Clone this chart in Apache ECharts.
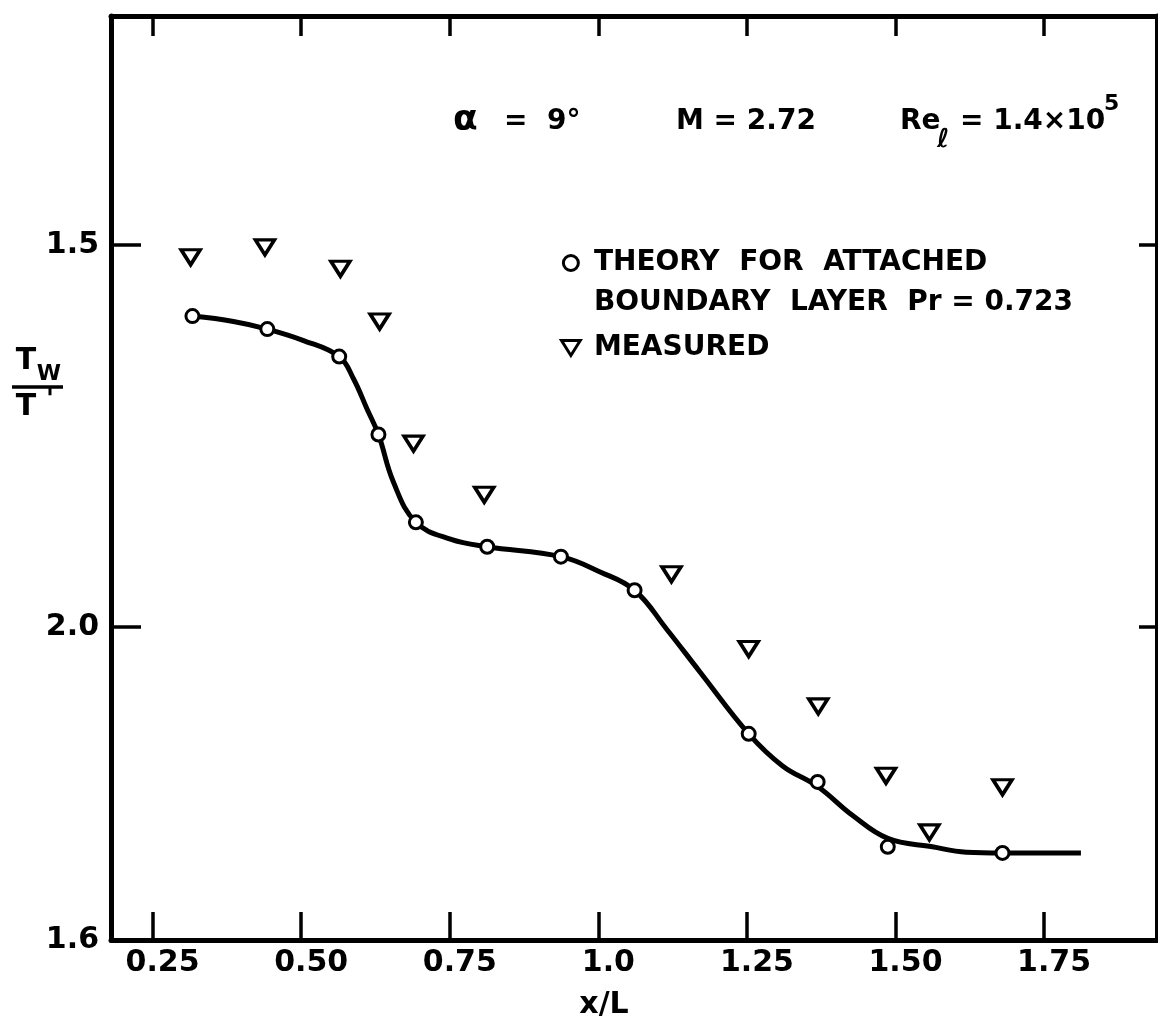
<!DOCTYPE html>
<html>
<head>
<meta charset="utf-8">
<script src="https://cdn.jsdelivr.net/npm/echarts@6/dist/echarts.min.js"></script>
<style>
  html, body { margin: 0; padding: 0; background: #ffffff; }
  #chart { width: 1158px; height: 1027px; }
</style>
</head>
<body>
<div id="chart"></div>
<script>
// ---- Data ----
const xTickValues = [0.25, 0.5, 0.75, 1.0, 1.25, 1.5, 1.75];
const xTickLabels = ['0.25', '0.50', '0.75', '1.0', '1.25', '1.50', '1.75'];
const yTickValues = [1.5, 2.0];
const yLabelValues = [1.5, 2.0, 2.41];
const yTickLabels = ['1.5', '2.0', '1.6'];

const theoryX = [0.317, 0.443, 0.564, 0.630, 0.693, 0.813, 0.937, 1.061, 1.253, 1.369, 1.487, 1.680];
const theoryY = [1.593, 1.610, 1.646, 1.748, 1.863, 1.895, 1.908, 1.952, 2.140, 2.203, 2.288, 2.296];

const measuredX = [0.314, 0.439, 0.566, 0.632, 0.689, 0.808, 1.123, 1.253, 1.370, 1.484, 1.557, 1.680];
const measuredY = [1.516, 1.503, 1.531, 1.600, 1.760, 1.827, 1.931, 2.029, 2.104, 2.195, 2.269, 2.210];

const curveX = [0.317, 0.386, 0.443, 0.504, 0.564, 0.588, 0.611, 0.630, 0.655, 0.693, 0.751, 0.813, 0.937,
                1.003, 1.061, 1.115, 1.171, 1.253, 1.310, 1.369, 1.428, 1.487, 1.562, 1.619, 1.680, 1.812];
const curveY = [1.593, 1.600, 1.610, 1.625, 1.646, 1.675, 1.715, 1.748, 1.810, 1.863, 1.885, 1.895, 1.908,
                1.928, 1.952, 2.003, 2.059, 2.140, 2.182, 2.209, 2.247, 2.277, 2.288, 2.295, 2.296, 2.296];

const theoryName = 'THEORY  FOR  ATTACHED\nBOUNDARY  LAYER  Pr = 0.723';
const measuredName = 'MEASURED';

// ---- Build ----
const FONT = 'DejaVu Sans';
const zip = (a, b) => a.map((v, i) => [v, b[i]]);
const triPath = 'path://M0,0 L20,0 L10,16 Z';

const chart = echarts.init(document.getElementById('chart'), null, { renderer: 'canvas' });

const xLabelMap = {};
xTickValues.forEach((v, i) => { xLabelMap[v.toFixed(3)] = xTickLabels[i]; });
const yLabelMap = {};
yLabelValues.forEach((v, i) => { yLabelMap[v.toFixed(3)] = yTickLabels[i]; });

const option = {
  backgroundColor: '#ffffff',
  animation: false,
  grid: { left: 111, top: 16, width: 1046, height: 924, containLabel: false },
  xAxis: [
    {
      type: 'value', position: 'bottom', min: 0.18, max: 1.94,
      axisLine: { show: true, lineStyle: { color: '#000', width: 5 } },
      axisTick: { show: true, inside: true, length: 28, customValues: xTickValues, lineStyle: { color: '#000', width: 3.5 } },
      axisLabel: {
        show: true, customValues: xTickValues, margin: 8,
        formatter: v => xLabelMap[v.toFixed(3)] || '',
        color: '#000', fontFamily: FONT, fontWeight: 'bold', fontSize: 30,
        padding: [0, 0, 0, 20]
      },
      splitLine: { show: false },
      name: 'x/L', nameLocation: 'middle', nameGap: 50,
      nameTextStyle: { color: '#000', fontFamily: FONT, fontWeight: 'bold', fontSize: 30, padding: [0, 60, 0, 0] }
    },
    {
      type: 'value', position: 'top', min: 0.18, max: 1.94,
      axisLine: { show: true, lineStyle: { color: '#000', width: 5 } },
      axisTick: { show: true, inside: true, length: 20, customValues: xTickValues, lineStyle: { color: '#000', width: 3.5 } },
      axisLabel: { show: false },
      splitLine: { show: false }
    }
  ],
  yAxis: [
    {
      type: 'value', position: 'left', inverse: true, min: 1.2, max: 2.41,
      axisLine: { show: true, lineStyle: { color: '#000', width: 5 } },
      axisTick: { show: true, inside: true, length: 30, customValues: yTickValues, lineStyle: { color: '#000', width: 3.5 } },
      axisLabel: {
        show: true, customValues: yLabelValues, margin: 12,
        formatter: v => yLabelMap[v.toFixed(3)] || '',
        color: '#000', fontFamily: FONT, fontWeight: 'bold', fontSize: 30
      },
      splitLine: { show: false }
    },
    {
      type: 'value', position: 'right', inverse: true, min: 1.2, max: 2.41,
      axisLine: { show: true, lineStyle: { color: '#000', width: 5 } },
      axisTick: { show: true, inside: true, length: 18, customValues: yTickValues, lineStyle: { color: '#000', width: 3.5 } },
      axisLabel: { show: false },
      splitLine: { show: false }
    }
  ],
  legend: {
    orient: 'vertical', left: 555, top: 198, itemGap: 5,
    itemWidth: 36, itemHeight: 15, symbolKeepAspect: true, selectedMode: false,
    formatter: name => (name === theoryName ? '\n' + name : name),
    textStyle: { color: '#000', fontFamily: FONT, fontWeight: 'bold', fontSize: 28, lineHeight: 40 },
    data: [
      { name: theoryName, icon: 'circle',
        itemStyle: { color: '#fff', borderColor: '#000', borderWidth: 3 } },
      { name: measuredName, icon: triPath,
        itemStyle: { color: '#fff', borderColor: '#000', borderWidth: 3 } }
    ]
  },
  graphic: [
    // y-axis title  Tw / T'
    { type: 'text', style: { x: 26, y: 361, text: 'T', align: 'center', verticalAlign: 'middle', font: 'bold 30px "DejaVu Sans"', fill: '#000' } },
    { type: 'text', style: { x: 49, y: 374, text: 'W', align: 'center', verticalAlign: 'middle', font: 'bold 22px "DejaVu Sans"', fill: '#000' } },
    { type: 'line', shape: { x1: 12, y1: 387, x2: 63, y2: 387 }, style: { stroke: '#000', lineWidth: 3.5 } },
    { type: 'text', style: { x: 26, y: 407, text: 'T', align: 'center', verticalAlign: 'middle', font: 'bold 30px "DejaVu Sans"', fill: '#000' } },
    { type: 'text', style: { x: 50, y: 401, text: "'", align: 'center', verticalAlign: 'middle', font: 'bold 26px "DejaVu Sans"', fill: '#000' } },
    // header annotations
    { type: 'text', style: { x: 453, y: 121, text: 'α', align: 'left', verticalAlign: 'middle', font: 'bold 36px "DejaVu Sans"', fill: '#000' } },
    { type: 'text', style: { x: 504, y: 122, text: '=  9°', align: 'left', verticalAlign: 'middle', font: 'bold 28px "DejaVu Sans"', fill: '#000' } },
    { type: 'text', style: { x: 676, y: 122, text: 'M = 2.72', align: 'left', verticalAlign: 'middle', font: 'bold 28px "DejaVu Sans"', fill: '#000' } },
    { type: 'text', style: { x: 900, y: 122, text: 'Re', align: 'left', verticalAlign: 'middle', font: 'bold 28px "DejaVu Sans"', fill: '#000' } },
    { type: 'text', style: { x: 937, y: 140, text: 'ℓ', align: 'left', verticalAlign: 'middle', font: 'bold 26px "DejaVu Sans"', fill: '#000' } },
    { type: 'text', style: { x: 960, y: 122, text: '= 1.4×10', align: 'left', verticalAlign: 'middle', font: 'bold 28px "DejaVu Sans"', fill: '#000' } },
    { type: 'text', style: { x: 1104, y: 104, text: '5', align: 'left', verticalAlign: 'middle', font: 'bold 22px "DejaVu Sans"', fill: '#000' } }
  ],
  series: [
    {
      name: 'curve', type: 'line', xAxisIndex: 0, yAxisIndex: 0,
      data: zip(curveX, curveY), showSymbol: false, symbol: 'none',
      smooth: 0.4,
      lineStyle: { color: '#000', width: 5 }, z: 2, silent: true
    },
    {
      name: theoryName, type: 'scatter', xAxisIndex: 0, yAxisIndex: 0,
      data: zip(theoryX, theoryY), symbol: 'circle', symbolSize: 13,
      itemStyle: { color: '#fff', borderColor: '#000', borderWidth: 3, opacity: 1 }, z: 3
    },
    {
      name: measuredName, type: 'scatter', xAxisIndex: 0, yAxisIndex: 0,
      data: zip(measuredX, measuredY), symbol: triPath, symbolSize: [19, 15],
      itemStyle: { color: '#fff', borderColor: '#000', borderWidth: 3.5, opacity: 1 }, z: 3
    }
  ]
};

chart.setOption(option);
</script>
</body>
</html>
